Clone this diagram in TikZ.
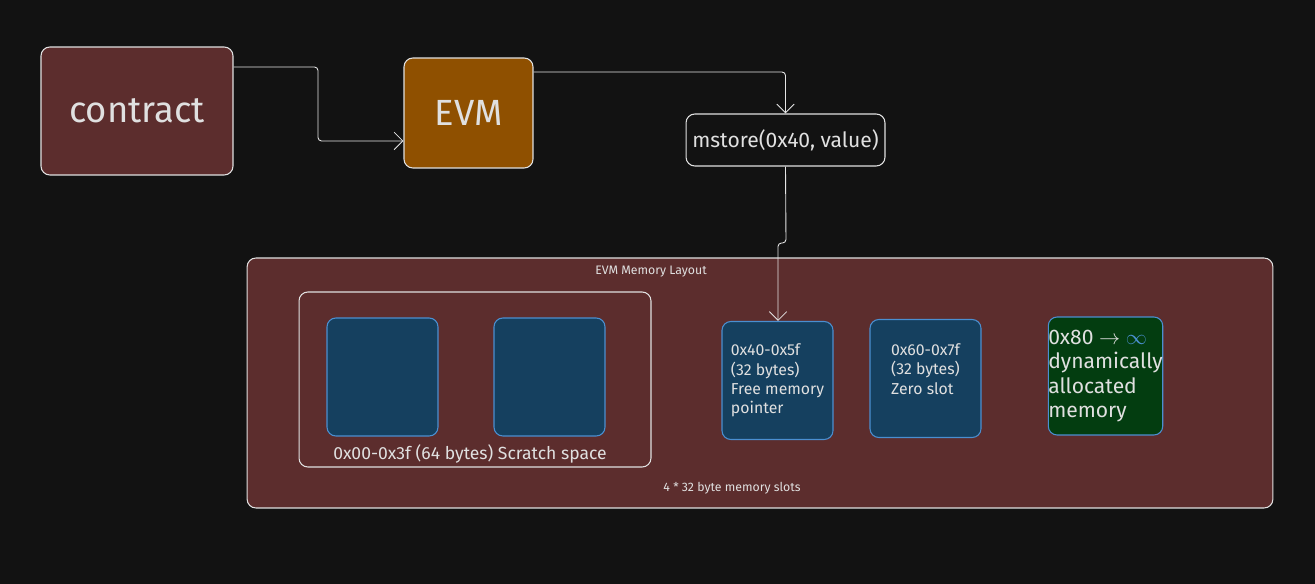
\documentclass[tikz,border=0pt]{standalone}
\usepackage{fontspec}
\setmainfont{Fira Sans}
\usetikzlibrary{positioning,arrows.meta}
\definecolor{bgc}{HTML}{121212}
\definecolor{maroon}{HTML}{5C2D2D}
\definecolor{amber}{HTML}{8F5000}
\definecolor{slot}{HTML}{15405F}
\definecolor{slotline}{HTML}{4A8FD0}
\definecolor{greenbox}{HTML}{033D10}
\definecolor{ink}{HTML}{E0E0E0}
\tikzset{
  box/.style={draw=ink, rounded corners=5pt, line width=0.6pt, text=ink, inner sep=0pt},
  slotbox/.style={draw=slotline, fill=slot, rounded corners=5pt, line width=0.6pt, minimum width=2.22cm, minimum height=2.36cm, text=ink, inner sep=0pt},
  link/.style={draw=ink!85, line width=0.5pt, rounded corners=2pt, -{Straight Barb[length=5pt]}},
  small/.style={text=ink, font=\scriptsize}
}
\begin{document}
\begin{tikzpicture}[x=0.02cm,y=-0.02cm]
\fill[bgc] (0,0) rectangle (1315,584);
\useasboundingbox (0,0) rectangle (1315,584);
% top row
\node[box, fill=maroon, minimum width=3.84cm, minimum height=2.56cm, font=\huge] (contract) at (137,111) {contract};
\node[box, fill=amber, minimum width=2.58cm, minimum height=2.2cm, font=\huge] (evm) at (468.5,113) {EVM};
\node[box, fill=bgc, minimum width=3.98cm, minimum height=1.04cm, font=\large] (mstore) at (785.5,140) {mstore(0x40, value)};
% memory layout
\node[box, fill=maroon, minimum width=20.52cm, minimum height=5cm] (mem) at (760,383) {};
\node[small] at (651,272) {EVM Memory Layout};
\node[small] at (732,488) {4 * 32 byte memory slots};
\node[box, minimum width=7.04cm, minimum height=3.5cm] (scratch) at (475,379.5) {};
\node[slotbox] (s1) at (382.5,377) {};
\node[slotbox] (s2) at (549.5,377) {};
\node[text=ink] at (470,454) {0x00-0x3f (64 bytes) Scratch space};
\node[slotbox, align=left, font=\small] (freeptr) at (777.5,380.5) {0x40-0x5f\\(32 bytes)\\Free memory\\pointer};
\node[slotbox, align=left, font=\small] (zero) at (925.5,378.5) {0x60-0x7f\\(32 bytes)\\Zero slot\\\phantom{x}};
\node[slotbox, fill=greenbox, align=left, font=\large] (dyn) at (1105.5,376) {0x80 $\rightarrow$ {\color{slotline}$\infty$}\\dynamically\\allocated\\memory};
% connectors
\draw[link] (contract.east |- 0,67) -| (318,141) -- (evm.west |- 0,141);
\draw[link] (evm.east |- 0,72) -| (mstore.north);
\draw[link] (mstore.south) -- (786,243) -- (778,243) -- (freeptr.north -| 778,0);
\end{tikzpicture}
\end{document}
